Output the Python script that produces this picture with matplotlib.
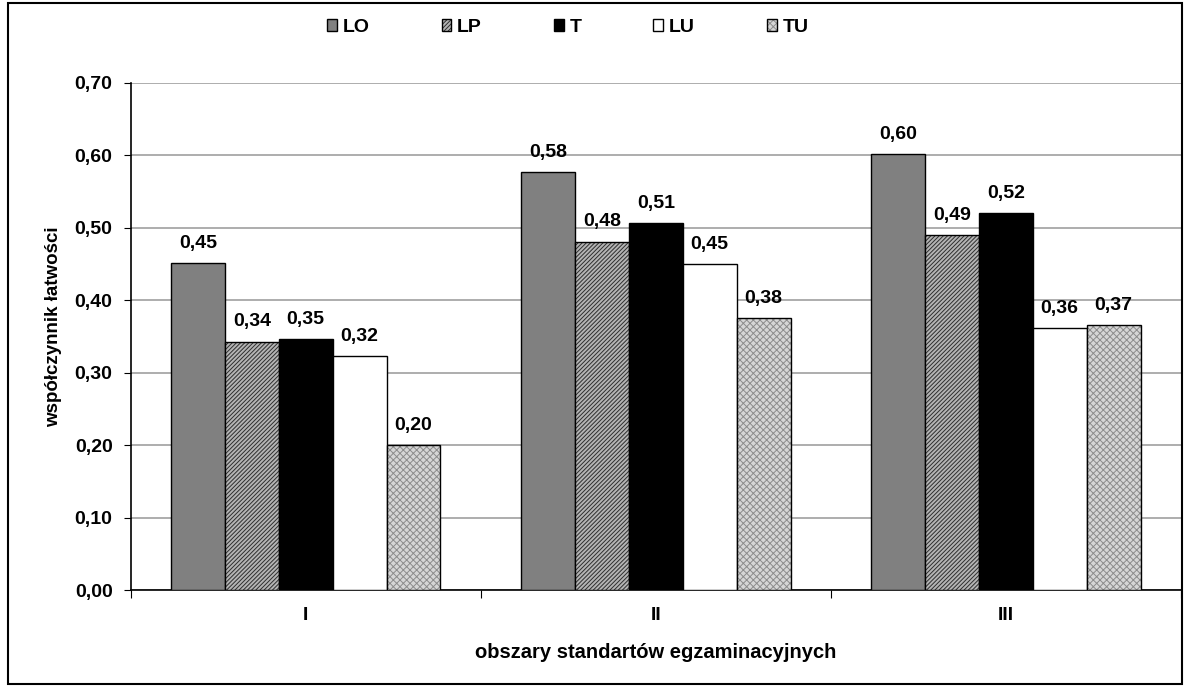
import numpy as np
import matplotlib.pyplot as plt
from matplotlib.patches import Rectangle, Patch

plt.rcParams['font.family'] = ['Liberation Sans', 'DejaVu Sans']
plt.rcParams['font.weight'] = 'bold'
plt.rcParams['hatch.linewidth'] = 0.7

categories = ["I", "II", "III"]
series = ["LO", "LP", "T", "LU", "TU"]
values = {
    "LO": [0.451, 0.577, 0.602],
    "LP": [0.343, 0.481, 0.490],
    "T": [0.346, 0.507, 0.521],
    "LU": [0.323, 0.450, 0.362],
    "TU": [0.200, 0.376, 0.366],
}
yticks = [0.0, 0.1, 0.2, 0.3, 0.4, 0.5, 0.6, 0.7]

# face colour, hatch, hatch colour
styles = {
    "LO": ("#808080", None, None),
    "LP": ("#b4b4b4", "////////", "#2e2e2e"),
    "T": ("#000000", None, None),
    "LU": ("#ffffff", None, None),
    "TU": ("#d6d6d6", "xxxxx", "#8c8c8c"),
}

fig = plt.figure(figsize=(11.88, 6.88), dpi=100)
ax = fig.add_axes([0.110, 0.1424, 0.884, 0.7370])

# frame around the whole figure
fig.patches.append(Rectangle((0.007, 0.006), 0.988, 0.989, transform=fig.transFigure,
                             fill=False, edgecolor="black", linewidth=1.5))

x = np.arange(len(categories))
w = 0.154
handles = []
for i, name in enumerate(series):
    fc, hatch, hc = styles[name]
    pos = x + (i - 2) * w
    vals = values[name]
    if hatch:
        ax.bar(pos, vals, w, color=fc, hatch=hatch, edgecolor=hc, linewidth=0, zorder=3)
        ax.bar(pos, vals, w, fill=False, edgecolor="black", linewidth=1, zorder=4)
        h = (Patch(facecolor=fc, hatch=hatch, edgecolor=hc, linewidth=0),
             Patch(fill=False, edgecolor="black", linewidth=1))
    else:
        ax.bar(pos, vals, w, color=fc, edgecolor="black", linewidth=1, zorder=3)
        h = Patch(facecolor=fc, edgecolor="black", linewidth=1)
    handles.append(h)
    for p, v in zip(pos, vals):
        ax.annotate(f"{v:.2f}".replace(".", ","), (p, v), xytext=(0, 8),
                    textcoords="offset points", ha="center", va="bottom",
                    fontsize=14, fontweight="bold")

ax.set_xlim(-0.5, 2.5)
ax.set_ylim(0, 0.7)
ax.set_yticks(yticks)
ax.set_yticklabels([f"{t:.2f}".replace(".", ",") for t in yticks], fontsize=14, fontweight="bold")
ax.yaxis.grid(True, color="#a0a0a0", linewidth=1.2)
ax.set_axisbelow(True)

ax.set_xticks([-0.5, 0.5, 1.5, 2.5])
ax.set_xticklabels([])
ax.set_xticks(x, minor=True)
ax.set_xticklabels(categories, minor=True, fontsize=14, fontweight="bold")
ax.tick_params(axis="x", which="major", length=6, direction="out")
ax.tick_params(axis="x", which="minor", length=0, pad=12)
ax.tick_params(axis="y", length=5, direction="out", pad=8)

for s in ["top", "right"]:
    ax.spines[s].set_visible(False)
ax.spines["left"].set_linewidth(1.2)
ax.spines["bottom"].set_linewidth(1.2)

ax.set_ylabel("współczynnik łatwości", fontsize=13.5, fontweight="bold")
ax.yaxis.set_label_coords(-0.065, 0.519)
ax.set_xlabel("obszary standartów egzaminacyjnych", fontsize=14.5, fontweight="bold", labelpad=14)

fig.legend(handles, series, loc="upper center", bbox_to_anchor=(0.478, 0.998), ncol=5,
           frameon=False, handlelength=0.5, handleheight=0.6, handletextpad=0.3,
           columnspacing=3.7, prop={"size": 14, "weight": "bold"})

fig.savefig("out.png", dpi=100)
